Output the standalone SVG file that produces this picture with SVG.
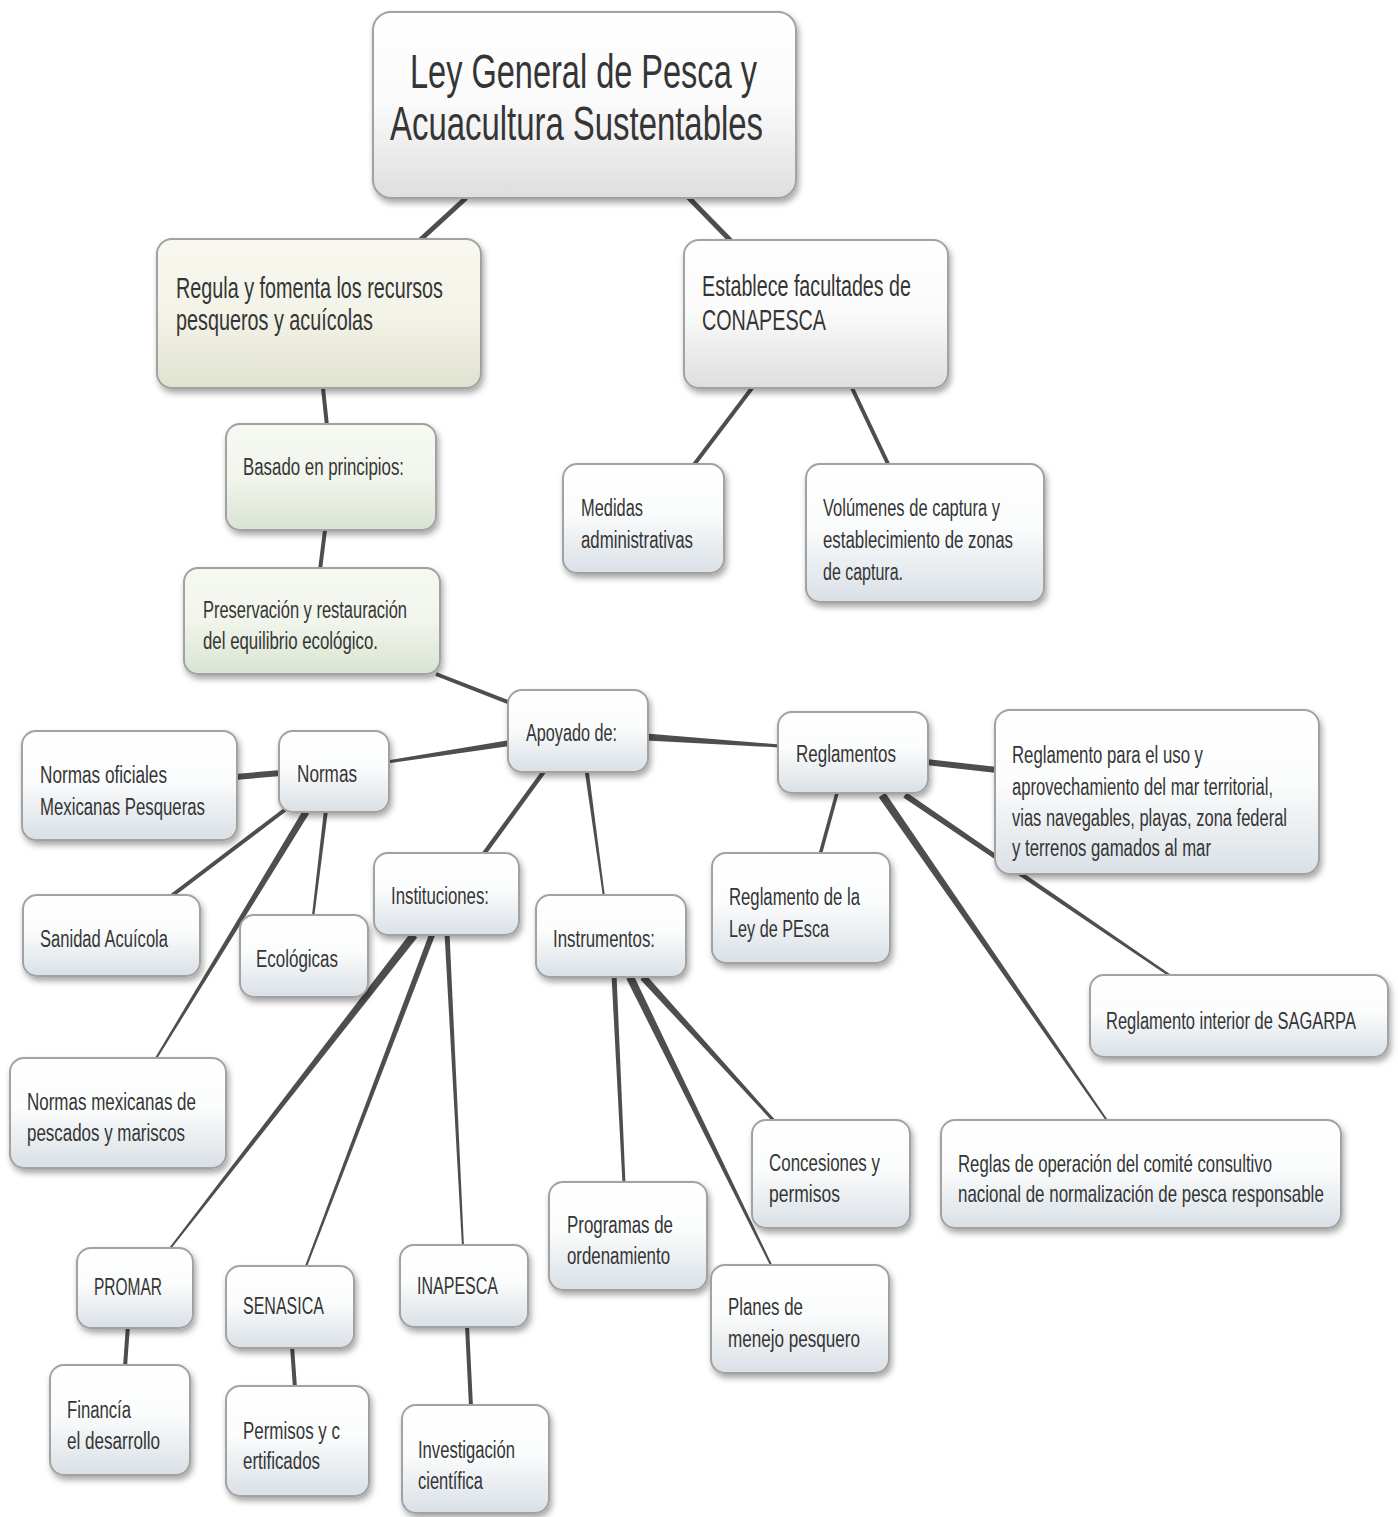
<svg xmlns="http://www.w3.org/2000/svg" width="1398" height="1517" viewBox="0 0 1398 1517">
<defs>
<linearGradient id="gB" x1="0" y1="0" x2="0" y2="1"><stop offset="0" stop-color="#ffffff"/><stop offset="0.45" stop-color="#fbfcfc"/><stop offset="1" stop-color="#d9e0e6"/></linearGradient>
<linearGradient id="gN" x1="0" y1="0" x2="0" y2="1"><stop offset="0" stop-color="#ffffff"/><stop offset="0.5" stop-color="#fafafa"/><stop offset="1" stop-color="#dedede"/></linearGradient>
<linearGradient id="gY" x1="0" y1="0" x2="0" y2="1"><stop offset="0" stop-color="#f8f8f0"/><stop offset="0.5" stop-color="#f3f3e8"/><stop offset="1" stop-color="#e0e2cf"/></linearGradient>
<linearGradient id="gG" x1="0" y1="0" x2="0" y2="1"><stop offset="0" stop-color="#f6f9f2"/><stop offset="0.5" stop-color="#f1f5ec"/><stop offset="1" stop-color="#d9e4d2"/></linearGradient>
<filter id="sh" x="-10%" y="-10%" width="125%" height="140%"><feDropShadow dx="2" dy="4" stdDeviation="3" flood-color="#000" flood-opacity="0.35"/></filter>
</defs>
<style>
.box{stroke:#a2a2a2;stroke-width:2;filter:url(#sh)}
.b{fill:url(#gB)}.n{fill:url(#gN)}.y{fill:url(#gY)}.g{fill:url(#gG)}
text{font-family:"Liberation Sans",Arial,sans-serif;fill:#353535}
.t1{font-size:48px}.t2{font-size:29px}.t3{font-size:23px}
.c line{stroke:#4e4e4e;stroke-linecap:butt}
.c polygon{fill:#4e4e4e}
</style>
<rect width="1398" height="1517" fill="#ffffff"/>
<g id="connectors" class="c">
<line x1="466" y1="198" x2="418" y2="242" stroke-width="5"/>
<line x1="687" y1="196" x2="732" y2="242" stroke-width="5"/>
<line x1="323" y1="388" x2="327" y2="426" stroke-width="4"/>
<line x1="325" y1="530" x2="320" y2="570" stroke-width="4"/>
<line x1="752" y1="388" x2="693" y2="466" stroke-width="4"/>
<line x1="852" y1="388" x2="889" y2="466" stroke-width="4"/>
<line x1="436" y1="674" x2="510" y2="703" stroke-width="4"/>
<polygon points="510,740 387,760.5 387,763.5 510,746"/>
<polygon points="646,733.5 780,744.5 780,747.5 646,740.5"/>
<line x1="281" y1="773" x2="235" y2="777" stroke-width="6"/>
<polygon points="303,810.2 154.1,1059.5 155.9,1060.5 309,813.8"/>
<line x1="286" y1="809" x2="170" y2="897" stroke-width="4"/>
<polygon points="324,810 311.8,917 314.2,917 328,810"/>
<line x1="926" y1="762" x2="997" y2="770" stroke-width="6"/>
<polygon points="903.3,797.5 1171.3,978 1172.7,976 906.7,792.5"/>
<polygon points="878.7,797.3 1107.2,1122.6 1108.8,1121.4 885.3,792.7"/>
<line x1="837" y1="793" x2="820" y2="855" stroke-width="3.5"/>
<line x1="545" y1="770" x2="483" y2="855" stroke-width="4.5"/>
<polygon points="585,773 603,897 605,897 589,773"/>
<polygon points="410.8,932.5 167.2,1250.4 168.8,1251.6 417.2,937.5"/>
<polygon points="429.2,933.9 304.1,1268.6 305.9,1269.4 434.8,936.1"/>
<polygon points="444.5,933 462,1247 464,1247 449.5,933"/>
<polygon points="611.5,975 622.5,1184 625.5,1184 616.5,975"/>
<polygon points="626.4,978.8 771.1,1267.4 772.9,1266.6 633.6,975.2"/>
<polygon points="640.4,979.4 773.9,1123 776.1,1121 645.6,974.6"/>
<line x1="128" y1="1325" x2="125" y2="1367" stroke-width="4"/>
<line x1="292" y1="1346" x2="295" y2="1388" stroke-width="4"/>
<line x1="467" y1="1325" x2="471" y2="1407" stroke-width="4"/>
</g>
<g id="n-title"><rect class="box n" x="373" y="12" width="423" height="186" rx="18"/>
<text class="t1" x="410" y="88" textLength="347" lengthAdjust="spacingAndGlyphs">Ley General de Pesca y</text>
<text class="t1" x="390" y="140" textLength="373" lengthAdjust="spacingAndGlyphs">Acuacultura Sustentables</text></g>
<g id="n-regula"><rect class="box y" x="157" y="239" width="324" height="149" rx="15"/>
<text class="t2" x="176" y="298" textLength="267" lengthAdjust="spacingAndGlyphs">Regula y fomenta los recursos</text>
<text class="t2" x="176" y="330" textLength="197" lengthAdjust="spacingAndGlyphs">pesqueros y acuícolas</text></g>
<g id="n-establece"><rect class="box n" x="684" y="240" width="264" height="148" rx="15"/>
<text class="t2" x="702" y="296" textLength="209" lengthAdjust="spacingAndGlyphs">Establece facultades de</text>
<text class="t2" x="702" y="330" textLength="124" lengthAdjust="spacingAndGlyphs">CONAPESCA</text></g>
<g id="n-basado"><rect class="box g" x="226" y="424" width="210" height="106" rx="14"/>
<text class="t3" x="243" y="475" textLength="161" lengthAdjust="spacingAndGlyphs">Basado en principios:</text></g>
<g id="n-preservacion"><rect class="box g" x="184" y="568" width="256" height="106" rx="14"/>
<text class="t3" x="203" y="618" textLength="204" lengthAdjust="spacingAndGlyphs">Preservación y restauración</text>
<text class="t3" x="203" y="649" textLength="175" lengthAdjust="spacingAndGlyphs">del equilibrio ecológico.</text></g>
<g id="n-medidas"><rect class="box b" x="563" y="464" width="161" height="109" rx="14"/>
<text class="t3" x="581" y="516" textLength="62" lengthAdjust="spacingAndGlyphs">Medidas</text>
<text class="t3" x="581" y="548" textLength="112" lengthAdjust="spacingAndGlyphs">administrativas</text></g>
<g id="n-volumenes"><rect class="box b" x="806" y="464" width="238" height="138" rx="14"/>
<text class="t3" x="823" y="516" textLength="177" lengthAdjust="spacingAndGlyphs">Volúmenes de captura y</text>
<text class="t3" x="823" y="548" textLength="190" lengthAdjust="spacingAndGlyphs">establecimiento de zonas</text>
<text class="t3" x="823" y="580" textLength="80" lengthAdjust="spacingAndGlyphs">de captura.</text></g>
<g id="n-apoyado"><rect class="box b" x="508" y="690" width="140" height="82" rx="14"/>
<text class="t3" x="526" y="741" textLength="91" lengthAdjust="spacingAndGlyphs">Apoyado de:</text></g>
<g id="n-reglamentos"><rect class="box b" x="778" y="712" width="150" height="81" rx="14"/>
<text class="t3" x="796" y="762" textLength="100" lengthAdjust="spacingAndGlyphs">Reglamentos</text></g>
<g id="n-reglamento-uso"><rect class="box b" x="995" y="710" width="324" height="164" rx="15"/>
<text class="t3" x="1012" y="763" textLength="191" lengthAdjust="spacingAndGlyphs">Reglamento para el uso y</text>
<text class="t3" x="1012" y="795" textLength="261" lengthAdjust="spacingAndGlyphs">aprovechamiento del mar territorial,</text>
<text class="t3" x="1012" y="826" textLength="275" lengthAdjust="spacingAndGlyphs">vias navegables, playas, zona federal</text>
<text class="t3" x="1012" y="856" textLength="199" lengthAdjust="spacingAndGlyphs">y terrenos gamados al mar</text></g>
<g id="n-normas"><rect class="box b" x="279" y="731" width="110" height="81" rx="14"/>
<text class="t3" x="297" y="782" textLength="60" lengthAdjust="spacingAndGlyphs">Normas</text></g>
<g id="n-normas-oficiales"><rect class="box b" x="22" y="731" width="215" height="109" rx="14"/>
<text class="t3" x="40" y="783" textLength="127" lengthAdjust="spacingAndGlyphs">Normas oficiales</text>
<text class="t3" x="40" y="815" textLength="165" lengthAdjust="spacingAndGlyphs">Mexicanas Pesqueras</text></g>
<g id="n-sanidad"><rect class="box b" x="23" y="895" width="177" height="81" rx="14"/>
<text class="t3" x="40" y="947" textLength="128" lengthAdjust="spacingAndGlyphs">Sanidad Acuícola</text></g>
<g id="n-ecologicas"><rect class="box b" x="240" y="915" width="128" height="82" rx="14"/>
<text class="t3" x="256" y="967" textLength="82" lengthAdjust="spacingAndGlyphs">Ecológicas</text></g>
<g id="n-normas-mexicanas"><rect class="box b" x="10" y="1058" width="216" height="110" rx="14"/>
<text class="t3" x="27" y="1110" textLength="169" lengthAdjust="spacingAndGlyphs">Normas mexicanas de</text>
<text class="t3" x="27" y="1141" textLength="158" lengthAdjust="spacingAndGlyphs">pescados y mariscos</text></g>
<g id="n-instituciones"><rect class="box b" x="374" y="853" width="145" height="82" rx="14"/>
<text class="t3" x="391" y="904" textLength="98" lengthAdjust="spacingAndGlyphs">Instituciones:</text></g>
<g id="n-instrumentos"><rect class="box b" x="536" y="895" width="150" height="82" rx="14"/>
<text class="t3" x="553" y="947" textLength="102" lengthAdjust="spacingAndGlyphs">Instrumentos:</text></g>
<g id="n-reglamento-ley"><rect class="box b" x="712" y="853" width="178" height="110" rx="14"/>
<text class="t3" x="729" y="905" textLength="131" lengthAdjust="spacingAndGlyphs">Reglamento de la</text>
<text class="t3" x="729" y="937" textLength="100" lengthAdjust="spacingAndGlyphs">Ley de PEsca</text></g>
<g id="n-sagarpa"><rect class="box b" x="1090" y="975" width="298" height="82" rx="14"/>
<text class="t3" transform="translate(1106,1029) scale(0.714,1)" x="0" y="0" textLength="350" lengthAdjust="spacingAndGlyphs">Reglamento interior de SAGARPA</text></g>
<g id="n-reglas"><rect class="box b" x="941" y="1120" width="400" height="108" rx="14"/>
<text class="t3" x="958" y="1172" textLength="314" lengthAdjust="spacingAndGlyphs">Reglas de operación del comité consultivo</text>
<text class="t3" transform="translate(958,1202) scale(0.736,1)" x="0" y="0" textLength="497" lengthAdjust="spacingAndGlyphs">nacional de normalización de pesca responsable</text></g>
<g id="n-concesiones"><rect class="box b" x="752" y="1120" width="158" height="108" rx="14"/>
<text class="t3" x="769" y="1171" textLength="111" lengthAdjust="spacingAndGlyphs">Concesiones y</text>
<text class="t3" x="769" y="1202" textLength="71" lengthAdjust="spacingAndGlyphs">permisos</text></g>
<g id="n-programas"><rect class="box b" x="549" y="1182" width="158" height="108" rx="14"/>
<text class="t3" x="567" y="1233" textLength="106" lengthAdjust="spacingAndGlyphs">Programas de</text>
<text class="t3" x="567" y="1264" textLength="103" lengthAdjust="spacingAndGlyphs">ordenamiento</text></g>
<g id="n-planes"><rect class="box b" x="711" y="1265" width="178" height="108" rx="14"/>
<text class="t3" x="728" y="1315" textLength="75" lengthAdjust="spacingAndGlyphs">Planes de</text>
<text class="t3" x="728" y="1347" textLength="132" lengthAdjust="spacingAndGlyphs">menejo pesquero</text></g>
<g id="n-promar"><rect class="box b" x="77" y="1248" width="116" height="80" rx="14"/>
<text class="t3" x="94" y="1295" textLength="68" lengthAdjust="spacingAndGlyphs">PROMAR</text></g>
<g id="n-financia"><rect class="box b" x="50" y="1365" width="140" height="110" rx="14"/>
<text class="t3" x="67" y="1418" textLength="64" lengthAdjust="spacingAndGlyphs">Financía</text>
<text class="t3" x="67" y="1449" textLength="93" lengthAdjust="spacingAndGlyphs">el desarrollo</text></g>
<g id="n-senasica"><rect class="box b" x="226" y="1266" width="128" height="82" rx="14"/>
<text class="t3" x="243" y="1314" textLength="81" lengthAdjust="spacingAndGlyphs">SENASICA</text></g>
<g id="n-permisos"><rect class="box b" x="226" y="1386" width="143" height="110" rx="14"/>
<text class="t3" x="243" y="1439" textLength="97" lengthAdjust="spacingAndGlyphs">Permisos y c</text>
<text class="t3" x="243" y="1469" textLength="77" lengthAdjust="spacingAndGlyphs">ertificados</text></g>
<g id="n-inapesca"><rect class="box b" x="400" y="1245" width="128" height="82" rx="14"/>
<text class="t3" x="417" y="1294" textLength="81" lengthAdjust="spacingAndGlyphs">INAPESCA</text></g>
<g id="n-investigacion"><rect class="box b" x="402" y="1405" width="147" height="108" rx="14"/>
<text class="t3" x="418" y="1458" textLength="97" lengthAdjust="spacingAndGlyphs">Investigación</text>
<text class="t3" x="418" y="1489" textLength="65" lengthAdjust="spacingAndGlyphs">científica</text></g>
</svg>
